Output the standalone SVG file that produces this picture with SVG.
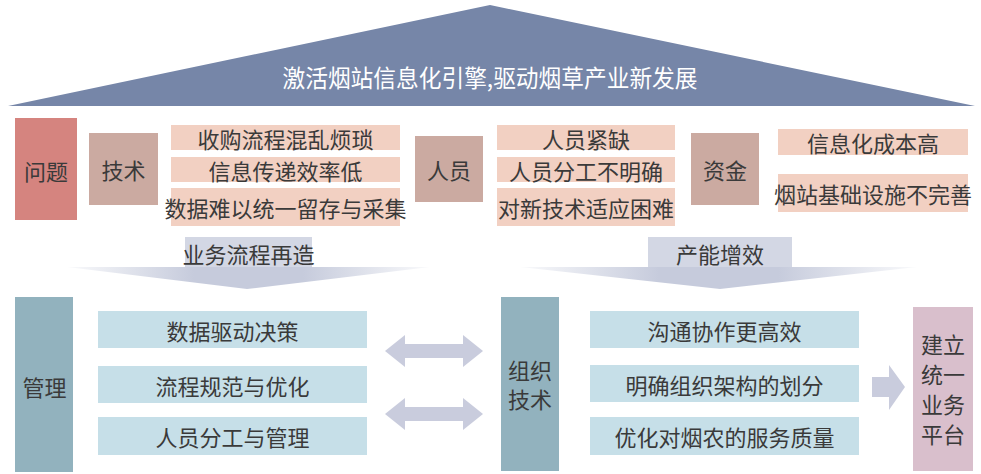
<svg xmlns="http://www.w3.org/2000/svg" width="981" height="474" viewBox="0 0 981 474">
<defs>
<style>
text{font-family:"Noto Sans CJK SC","Noto Sans",sans-serif;font-size:22px;fill:#3a3a3a;text-anchor:middle;dominant-baseline:central}
.title{fill:#ffffff;font-size:24px}
.hd{fill:#cbaaa1}
.pb{fill:#f2d0c2}
.lb{fill:#c6dfe8}
.tl{fill:#92b2be}
.arr{fill:#c9ccdd}
.lab{fill:#d3d7e4}
</style>
<linearGradient id="fade" x1="0" y1="0" x2="1" y2="0">
<stop offset="0" stop-color="#c6cbdc" stop-opacity="0.1"/>
<stop offset="0.35" stop-color="#c6cbdc"/>
<stop offset="0.65" stop-color="#c6cbdc"/>
<stop offset="1" stop-color="#c6cbdc" stop-opacity="0.1"/>
</linearGradient>
</defs>
<rect width="981" height="474" fill="#ffffff"/>
<g id="roof">
<polygon points="490,5 975,106 8,106" fill="#7686a8"/>
<text class="title" x="490" y="76" textLength="415" lengthAdjust="spacingAndGlyphs">激活烟站信息化引擎,驱动烟草产业新发展</text>
</g>
<g id="wenti">
<rect x="15" y="118" width="62" height="102" fill="#d5847f"/>
<text x="46" y="170">问题</text>
</g>
<g id="jishu">
<rect class="hd" x="89" y="133" width="69" height="72"/>
<text x="123.5" y="169">技术</text>
</g>
<g id="jishu-items">
<rect class="pb" x="171" y="125" width="229" height="25"/>
<text x="285.5" y="137.5">收购流程混乱烦琐</text>
<rect class="pb" x="171" y="157" width="229" height="25"/>
<text x="285.5" y="169.5">信息传递效率低</text>
<rect class="pb" x="171" y="188" width="229" height="38"/>
<text x="285.5" y="207">数据难以统一留存与采集</text>
</g>
<g id="renyuan">
<rect class="hd" x="415" y="136" width="68" height="66"/>
<text x="449" y="169">人员</text>
</g>
<g id="renyuan-items">
<rect class="pb" x="497" y="125" width="178" height="25"/>
<text x="586" y="137.5">人员紧缺</text>
<rect class="pb" x="497" y="157" width="178" height="25"/>
<text x="586" y="169.5">人员分工不明确</text>
<rect class="pb" x="497" y="188" width="178" height="38"/>
<text x="586" y="207">对新技术适应困难</text>
</g>
<g id="zijin">
<rect class="hd" x="691" y="133" width="68" height="72"/>
<text x="725" y="169">资金</text>
</g>
<g id="zijin-items">
<rect class="pb" x="778" y="129" width="190" height="26"/>
<text x="873" y="142">信息化成本高</text>
<rect class="pb" x="778" y="174" width="190" height="38"/>
<text x="873" y="193">烟站基础设施不完善</text>
</g>
<g id="connectors">
<polygon points="67,267 430,267 247,289" fill="url(#fade)"/>
<rect class="lab" x="185" y="237" width="127" height="30"/>
<text x="248.5" y="253">业务流程再造</text>
<polygon points="520,267 917,267 720,289" fill="url(#fade)"/>
<rect class="lab" x="648" y="237" width="144" height="30"/>
<text x="720" y="253">产能增效</text>
<polygon class="arr" points="385,351 405,335 405,344 463,344 463,335 483,351 463,367 463,358 405,358 405,367"/>
<polygon class="arr" points="385,414 405,398 405,407 463,407 463,398 483,414 463,430 463,421 405,421 405,430"/>
<polygon class="arr" points="872,377 889,377 889,365 905,387 889,410 889,397 872,397"/>
</g>
<g id="guanli">
<rect class="tl" x="15" y="297" width="58" height="175"/>
<text x="44.5" y="386">管理</text>
</g>
<g id="guanli-items">
<rect class="lb" x="98" y="311" width="269" height="37"/>
<text x="232.5" y="330">数据驱动决策</text>
<rect class="lb" x="98" y="366" width="269" height="37"/>
<text x="232.5" y="385">流程规范与优化</text>
<rect class="lb" x="98" y="417" width="269" height="38"/>
<text x="232.5" y="436">人员分工与管理</text>
</g>
<g id="zuzhi">
<rect class="tl" x="501" y="297" width="58" height="174"/>
<text x="530" y="369">组织</text>
<text x="530" y="398">技术</text>
</g>
<g id="zuzhi-items">
<rect class="lb" x="590" y="311" width="269" height="37"/>
<text x="724.5" y="330">沟通协作更高效</text>
<rect class="lb" x="590" y="365" width="269" height="37"/>
<text x="724.5" y="384">明确组织架构的划分</text>
<rect class="lb" x="590" y="417" width="269" height="38"/>
<text x="724.5" y="436">优化对烟农的服务质量</text>
</g>
<g id="pingtai">
<rect x="913" y="307" width="60" height="164" fill="#d9bfcc"/>
<text x="943" y="343">建立</text>
<text x="943" y="373">统一</text>
<text x="943" y="403">业务</text>
<text x="943" y="433">平台</text>
</g>
</svg>
